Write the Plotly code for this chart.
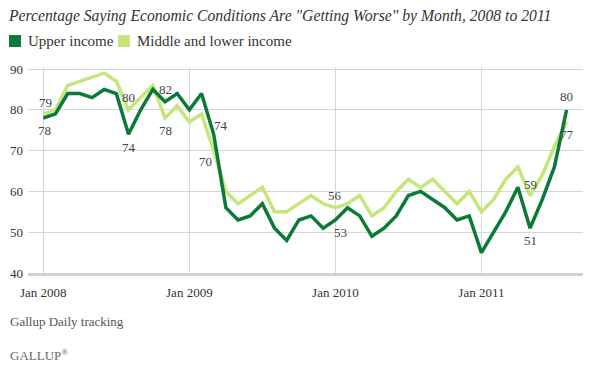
import plotly.graph_objects as go

# ---- data ----
months = list(range(44))  # Jan 2008 .. Aug 2011 (month index)
tick_positions = [0, 12, 24, 36]
tick_labels = ["Jan 2008", "Jan 2009", "Jan 2010", "Jan 2011"]

upper_income = [78, 79, 84, 84, 83, 85, 84, 74, 80, 85, 82, 84,
                80, 84, 74, 56, 53, 54, 57, 51, 48, 53, 54, 51,
                53, 56, 54, 49, 51, 54, 59, 60, 58, 56, 53, 54,
                45, 50, 55, 61, 51, 58, 66, 80]
middle_lower_income = [79, 80, 86, 87, 88, 89, 87, 80, 83, 86, 78, 81,
                       77, 79, 70, 60, 57, 59, 61, 55, 55, 57, 59, 57,
                       56, 57, 59, 54, 56, 60, 63, 61, 63, 60, 57, 60,
                       55, 58, 63, 66, 59, 64, 71, 77]

series_names = ["Upper income", "Middle and lower income"]
title_text = 'Percentage Saying Economic Conditions Are "Getting Worse" by Month, 2008 to 2011'
source_text = "Gallup Daily tracking"

# labelled points: (month index, xshift, yshift)
upper_labels = [(0, 1, -13), (7, 0, -13), (10, 0, 12), (14, 7, 9), (24, 5, -13), (40, 0, -12), (43, 0, 13)]
middle_labels = [(0, 2, 11), (7, 0, 12), (10, 0, -13), (14, -8, -11), (24, 0, 12), (40, 0, 11), (43, 0, -12)]

DARK = "#0b7a36"
LIGHT = "#c6e67c"
FONT = "Georgia, 'Liberation Serif', serif"

# plot-area geometry (pixels)
L, R, T, B = 28, 583, 67, 273.3
W, H = 589, 369

def px(xp):
    return (xp - L) / (R - L)

def py(yp):
    return (B - yp) / (B - T)

fig = go.Figure()
fig.add_trace(go.Scatter(x=months, y=middle_lower_income, mode="lines",
                         line=dict(color=LIGHT, width=3.5), showlegend=False,
                         name=series_names[1]))
fig.add_trace(go.Scatter(x=months, y=upper_income, mode="lines",
                         line=dict(color=DARK, width=3.5), showlegend=False,
                         name=series_names[0]))

annotations = []
for i, xs, ys in upper_labels:
    annotations.append(dict(x=months[i], y=upper_income[i], text=str(upper_income[i]),
                            showarrow=False, xshift=xs, yshift=ys,
                            font=dict(family=FONT, size=13, color="#444")))
for i, xs, ys in middle_labels:
    annotations.append(dict(x=months[i], y=middle_lower_income[i], text=str(middle_lower_income[i]),
                            showarrow=False, xshift=xs, yshift=ys,
                            font=dict(family=FONT, size=13, color="#444")))

# legend (manual)
shapes = [
    dict(type="rect", xref="paper", yref="paper", x0=px(9), x1=px(21), y0=py(47), y1=py(35),
         fillcolor=DARK, line=dict(width=0)),
    dict(type="rect", xref="paper", yref="paper", x0=px(118), x1=px(130), y0=py(47), y1=py(35),
         fillcolor=LIGHT, line=dict(width=0)),
]
annotations.append(dict(xref="paper", yref="paper", x=px(26), y=py(41), xanchor="left", yanchor="middle",
                        text=series_names[0], showarrow=False,
                        font=dict(family=FONT, size=15, color="#333")))
annotations.append(dict(xref="paper", yref="paper", x=px(135), y=py(41), xanchor="left", yanchor="middle",
                        text=series_names[1], showarrow=False,
                        font=dict(family=FONT, size=15, color="#333")))
annotations.append(dict(xref="paper", yref="paper", x=px(8), y=py(322), xanchor="left", yanchor="middle",
                        text=source_text, showarrow=False,
                        font=dict(family=FONT, size=13, color="#555")))
annotations.append(dict(xref="paper", yref="paper", x=px(8), y=py(355), xanchor="left", yanchor="middle",
                        text="GALLUP<sup>®</sup>", showarrow=False,
                        font=dict(family=FONT, size=13, color="#666")))

fig.update_layout(
    width=W, height=H,
    margin=dict(l=L, r=W - R, t=T, b=H - B),
    paper_bgcolor="white", plot_bgcolor="white",
    title=dict(text="<i>" + title_text + "</i>", xref="container", yref="container",
               x=9 / W, xanchor="left", y=1 - 16 / H, yanchor="middle",
               font=dict(family=FONT, size=15.7, color="#333")),
    xaxis=dict(range=[-1.26, 44.35], tickvals=tick_positions, ticktext=tick_labels,
               showgrid=True, gridcolor="#d6d6d6", gridwidth=1, zeroline=False,
               showline=True, linecolor="#d0d0d0", linewidth=3, ticks="",
               ticklabelstandoff=5,
               tickfont=dict(family=FONT, size=13, color="#333")),
    yaxis=dict(range=[40, 90.5], tickvals=[40, 50, 60, 70, 80, 90],
               showgrid=True, gridcolor="#d6d6d6", gridwidth=1, zeroline=False,
               showline=False, ticks="", ticklabelstandoff=4,
               tickfont=dict(family=FONT, size=13, color="#333")),
    shapes=shapes,
    annotations=annotations,
)

fig.write_html("out.html", config={"displayModeBar": False},
               post_script="document.body.style.margin='0';")
